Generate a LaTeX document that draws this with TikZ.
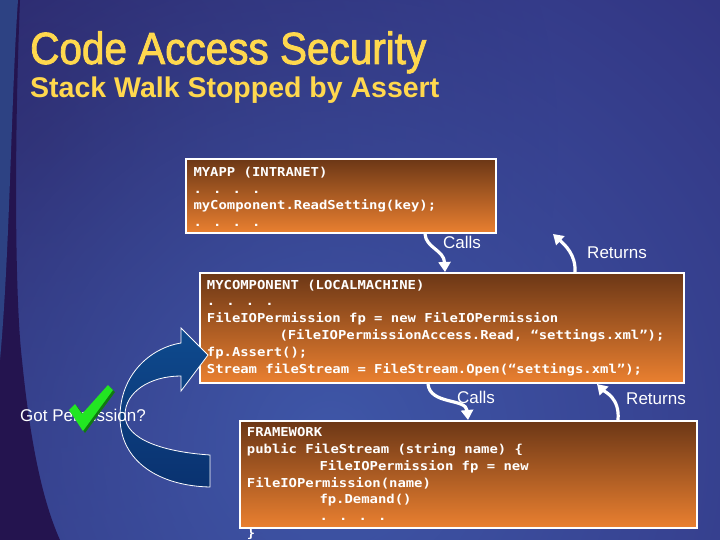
\documentclass[tikz,border=0pt]{standalone}
\usepackage{fontspec}
\setmainfont{Liberation Sans}
\newfontfamily\titlefont{Liberation Sans}[FakeBold=2]
\newfontfamily\codefont{DejaVu Sans Mono}[FakeStretch=1.13]
\usetikzlibrary{arrows.meta,fadings}
\definecolor{bgA}{HTML}{2E2A76}
\definecolor{glow}{HTML}{3F57A8}
\definecolor{darkband}{HTML}{24144F}
\definecolor{strip}{HTML}{2D4283}
\definecolor{boxtop}{HTML}{6C3716}
\definecolor{boxbot}{HTML}{EA8030}
\definecolor{titley}{HTML}{FFD84E}
\definecolor{arrtop}{HTML}{0E4A8E}
\definecolor{arrbot}{HTML}{0A3270}
\definecolor{checkg}{HTML}{22E622}
\definecolor{checkd}{HTML}{117A11}
\tikzfading[name=softglow, inner color=transparent!0, outer color=transparent!100]
\tikzset{
 codebox/.style={draw=white, line width=2pt, top color=boxtop, bottom color=boxbot, inner sep=0, anchor=north west},
 code/.style={anchor=base west, inner sep=0, text=white, font=\codefont\bfseries\fontsize{12.3}{15}\selectfont},
 lbl/.style={text=white, inner sep=0, font=\fontsize{17}{20}\selectfont},
 flow/.style={draw=white, line width=3.2pt, -{Triangle[width=12pt,length=10pt]}},
 ttl/.style={anchor=base west, inner sep=0, text=titley},
}
\begin{document}
\begin{tikzpicture}[x=1pt,y=-1pt]
\useasboundingbox (0,0) rectangle (720,540);
% background
\fill[bgA] (0,0) rectangle (720,540);
\begin{scope}
\clip (0,0) rectangle (720,540);
\fill[darkband, path fading=softglow] (40,140) circle (520pt);
\fill[glow, path fading=softglow] (330,440) circle (800pt);
\fill[darkband] (0,0) -- (20,0) .. controls (14,150) and (15,300) .. (22,360) .. controls (30,440) and (42,500) .. (60,540) -- (0,540) -- cycle;
\fill[strip] (0,0) -- (18,0) .. controls (11,100) and (10,250) .. (0,360) -- cycle;
\end{scope}
% title
\node[ttl, font=\titlefont\fontsize{45}{50}\selectfont] (title) at (30,64) {\scalebox{0.9}[1]{Code Access Security}};
\node[ttl, font=\bfseries\fontsize{28.5}{32}\selectfont] (sub) at (30,98) {Stack Walk Stopped by Assert};
% boxes
\node[codebox, minimum width=310pt, minimum height=74pt] (app) at (185,158) {};
\node[codebox, minimum width=484pt, minimum height=110pt] (mc) at (199,272) {};
\node[codebox, minimum width=457pt, minimum height=107pt] (fw) at (239,420) {};
% curved blue arrow
\shade[top color=arrtop, bottom color=arrbot, draw=white, line width=0.8pt]
 (181,343) .. controls (150,348) and (120,375) .. (120,417)
 .. controls (120,462) and (160,486) .. (210,487) -- (210,455)
 .. controls (165,452) and (125,440) .. (125,415)
 .. controls (125,392) and (150,376) .. (181,376) -- (181,391) -- (208,355) -- (181,328) -- cycle;
% box 1 text
\node[code] (a1) at (193.3,177) {MYAPP (INTRANET)};
\node[code] (a2) at (193.3,193.4) {. . . .};
\node[code] (a3) at (193.3,209.8) {myComponent.ReadSetting(key);};
\node[code] (a4) at (193.3,226.2) {. . . .};
% box 2 text
\node[code] (b1) at (206.7,289) {MYCOMPONENT (LOCALMACHINE)};
\node[code] (b2) at (206.7,305.8) {. . . .};
\node[code] (b3) at (206.7,322.6) {FileIOPermission fp = new FileIOPermission};
\node[code] (b4) at (279.3,339.4) {(FileIOPermissionAccess.Read, “settings.xml”);};
\node[code] (b5) at (206.7,356.2) {fp.Assert();};
\node[code] (b6) at (206.7,373) {Stream fileStream = FileStream.Open(“settings.xml”);};
% box 3 text
\node[code] (c1) at (246.7,436.7) {FRAMEWORK};
\node[code] (c2) at (246.7,453.5) {public FileStream (string name) \{};
\node[code] (c3) at (319.3,470.3) {FileIOPermission fp = new};
\node[code] (c4) at (246.7,487.1) {FileIOPermission(name)};
\node[code] (c5) at (319.3,503.9) {fp.Demand()};
\node[code] (c6) at (319.3,520.7) {. . . .};
\node[code] (c7) at (246.7,537.5) {\}};
% connectors
\draw[flow] (425,0 |- app.south) .. controls (426,248) and (444,250) .. (445,0 |- mc.north);
\draw[flow] (575,0 |- mc.north) .. controls (576,255) and (565,245) .. (553,0 |- app.south);
\draw[flow] (428,0 |- mc.south) .. controls (430,405) and (466,398) .. (468,0 |- fw.north);
\draw[flow] (618,0 |- fw.north) .. controls (620,398) and (605,392) .. (597,0 |- mc.south);
\node[lbl] (l1) at (462,242) {Calls};
\node[lbl] (l2) at (617,253) {Returns};
\node[lbl] (l3) at (476,397) {Calls};
\node[lbl] (l4) at (656,399) {Returns};
% got permission
\node[lbl, anchor=west] (gp) at (20,415) {Got Permission?};
\fill[checkd] (71,412) -- (77,406) -- (84,416) -- (110,387) -- (115,392) -- (85,433) -- cycle;
\fill[checkg] (69,410) -- (75,404) -- (82,414) -- (108,385) -- (113,390) -- (83,431) -- cycle;
\end{tikzpicture}
\end{document}
